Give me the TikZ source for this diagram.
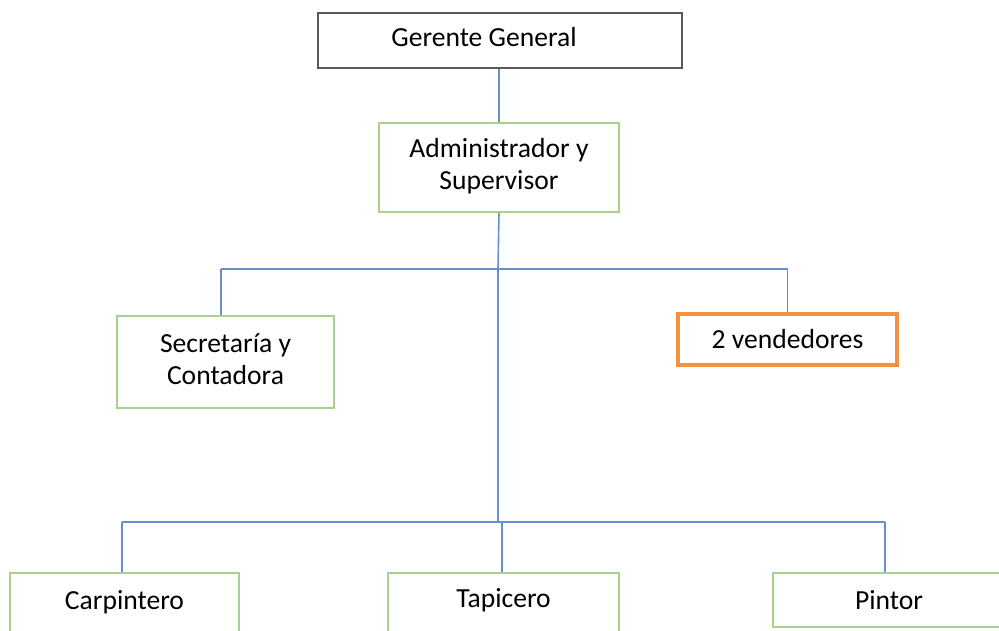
\documentclass[tikz,border=0pt]{standalone}
\usepackage{fontspec}
\setmainfont{Carlito}
\definecolor{boxgreen}{HTML}{A9D08E}
\definecolor{boxorange}{HTML}{F39140}
\definecolor{boxgray}{HTML}{595959}
\definecolor{linkblue}{HTML}{6A8CD2}
\begin{document}
\begin{tikzpicture}[x=1pt,y=-1pt,
  every node/.style={font=\fontsize{27.6}{32}\selectfont, align=center, inner sep=0pt},
  greenbox/.style={draw=boxgreen, line width=2.5pt, fill=white},
  orangebox/.style={draw=boxorange, line width=3.2pt, fill=white},
  graybox/.style={draw=boxgray, line width=2.5pt, fill=white},
  link/.style={draw=linkblue, line width=1.6pt}]
\clip (0,0) rectangle (999,631);
\fill[white] (0,0) rectangle (999,631);

\node[graybox, minimum width=364pt, minimum height=55pt] (gg) at (500,40.5) {\raisebox{8pt}{Gerente General}\hspace*{32pt}};
\node[greenbox, minimum width=240pt, minimum height=89pt] (adm) at (499,167.5) {\raisebox{4pt}{\begin{tabular}{@{}c@{}}Administrador y\\Supervisor\end{tabular}}};
\node[greenbox, minimum width=217pt, minimum height=92pt] (sec) at (225.5,362) {\raisebox{10pt}{\begin{tabular}{@{}c@{}}Secretaría y\\Contadora\end{tabular}}};
\node[orangebox, minimum width=219pt, minimum height=51pt] (ven) at (787.5,339.5) {2 vendedores};
\node[greenbox, minimum width=229pt, minimum height=80pt] (carp) at (124.5,613) {\raisebox{26pt}{Carpintero}};
\node[greenbox, minimum width=231pt, minimum height=80pt] (tap) at (503.5,613) {\raisebox{30pt}{Tapicero}};
\node[greenbox, minimum width=232pt, minimum height=54pt] (pin) at (889,600) {Pintor};

\coordinate (bus1) at (498,269);
\coordinate (bus2) at (498,522);

\draw[link] (gg.south -| adm.north) -- (adm.north);
\draw[link] (adm.south) -- (bus1);
\draw[link] ([xshift=-4.5pt]sec.north |- bus1) -- (ven.north |- bus1);
\draw[link] ([xshift=-4.5pt]sec.north |- bus1) -- ([xshift=-4.5pt]sec.north);
\draw[link] (ven.north |- bus1) -- (ven.north);
\draw[link] (bus1) -- (bus2);
\draw[link] ([xshift=-2.5pt]carp.north |- bus2) -- ([xshift=-4pt]pin.north |- bus2);
\draw[link] ([xshift=-2.5pt]carp.north |- bus2) -- ([xshift=-2.5pt]carp.north);
\draw[link] ([xshift=-1.5pt]tap.north |- bus2) -- ([xshift=-1.5pt]tap.north);
\draw[link] ([xshift=-4pt]pin.north |- bus2) -- ([xshift=-4pt]pin.north);
\end{tikzpicture}
\end{document}
